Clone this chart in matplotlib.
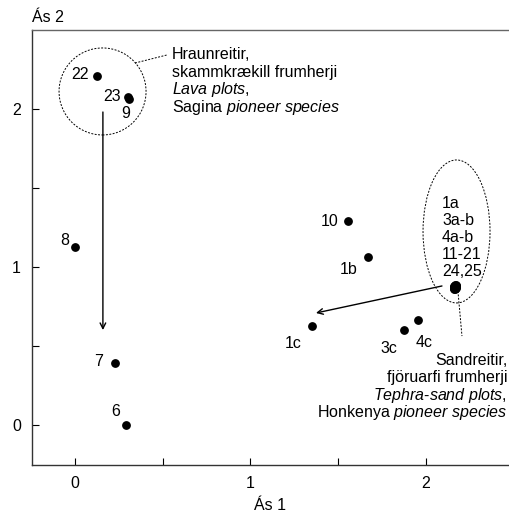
import matplotlib
matplotlib.use("Agg")
import matplotlib.pyplot as plt
from matplotlib.patches import Ellipse

plt.rcParams['font.family'] = ['Liberation Sans', 'DejaVu Sans']
plt.rcParams['mathtext.fontset'] = 'custom'
plt.rcParams['mathtext.rm'] = 'Liberation Sans'
plt.rcParams['mathtext.it'] = 'Liberation Sans:italic'

# ordination scores (axis 1, axis 2)
labels = ['22', '23', '9', '8', '7', '6', '10', '1b', '1c', '3c', '4c']
ax1 = [0.125, 0.302, 0.308, 0.0, 0.228, 0.291, 1.556, 1.670, 1.350, 1.875, 1.954]
ax2 = [2.209, 2.076, 2.063, 1.127, 0.392, 0.0, 1.291, 1.063, 0.627, 0.601, 0.665]
# label offsets in pixels
lab_dx = [-17, -16, -3, -10, -16, -10, -18, -19, -19, -15, 6]
lab_dy = [1, 0, -14, 6, 2, 14, 0, -12, -18, -18, -23]

# tight cluster of tephra-sand plots
clus_x = [2.158, 2.162, 2.165, 2.168, 2.171, 2.160, 2.166, 2.173, 2.163, 2.169,
          2.157, 2.164, 2.170, 2.161, 2.167, 2.172, 2.159, 2.166]
clus_y = [0.862, 0.868, 0.874, 0.879, 0.884, 0.871, 0.866, 0.877, 0.881, 0.869,
          0.875, 0.886, 0.872, 0.878, 0.864, 0.882, 0.870, 0.876]
clus_labels = ['1a', '3a-b', '4a-b', '11-21', '24,25']

lava_text = ['Hraunreitir,', 'skammkrækill frumherji', r'$\mathit{Lava\ plots,}$',
             r'Sagina $\mathit{pioneer\ species}$']
sand_text = ['Sandreitir,', 'fjöruarfi frumherji', r'$\mathit{Tephra}$-$\mathit{sand\ plots,}$',
             r'Honkenya $\mathit{pioneer\ species}$']

W, H = 509, 513
fig = plt.figure(figsize=(W / 100, H / 100), dpi=100)
ax = fig.add_axes([32 / W, (H - 465) / H, 1 - 32 / W, (465 - 30) / H])
ax.set_xlim(-0.245, 2.473)
ax.set_ylim(-0.253, 2.5)

fs = 11.5
ax.plot(ax1, ax2, 'o', color='black', ms=5.3)
ax.plot(clus_x, clus_y, 'o', color='black', ms=5.3)
for t, x, y, dx, dy in zip(labels, ax1, ax2, lab_dx, lab_dy):
    ax.annotate(t, (x, y), xytext=(dx, dy), textcoords='offset pixels',
                ha='center', va='center', fontsize=fs)

for i, t in enumerate(clus_labels):
    ax.annotate(t, (2.091, 1.405), xytext=(0, -17 * i), textcoords='offset pixels',
                ha='left', va='center', fontsize=fs)

for i, t in enumerate(lava_text):
    ax.annotate(t, (0.553, 2.342), xytext=(0, -17.5 * i), textcoords='offset pixels',
                ha='left', va='center', fontsize=fs)
for i, t in enumerate(sand_text):
    ax.annotate(t, (2.462, 0.411), xytext=(0, -17.5 * i), textcoords='offset pixels',
                ha='right', va='center', fontsize=fs)

# dashed group outlines and leaders
ax.add_patch(Ellipse((0.157, 2.111), 87 / 175.5, 87 / 158, fill=False,
                     ls=(0, (2, 1.5)), lw=0.7, color='black'))
ax.add_patch(Ellipse((2.174, 1.225), 67 / 175.5, 143 / 158, fill=False,
                     ls=(0, (2, 1.5)), lw=0.7, color='black'))
ax.plot([0.342, 0.524], [2.291, 2.342], ls=(0, (2, 1.5)), lw=0.7, color='black')
ax.plot([2.182, 2.205], [0.848, 0.563], ls=(0, (2, 1.5)), lw=0.7, color='black')

# arrows
ax.annotate('', xy=(0.159, 0.601), xytext=(0.159, 1.981),
            arrowprops=dict(arrowstyle='->', lw=1, color='black', shrinkA=0, shrinkB=0))
ax.annotate('', xy=(1.373, 0.709), xytext=(2.091, 0.880),
            arrowprops=dict(arrowstyle='->', lw=1, color='black', shrinkA=0, shrinkB=0))

ax.set_xticks([0, 1, 2])
ax.set_xticks([0.5, 1.5], minor=True)
ax.set_yticks([0, 1, 2])
ax.set_yticks([0.5, 1.5], minor=True)
ax.tick_params(which='both', direction='in', length=5, width=0.8, labelsize=fs, pad=8)
ax.spines['right'].set_visible(False)
for s in ['left', 'bottom']:
    ax.spines[s].set_color('#333333')
ax.spines['top'].set_color('#666666')
for s in ax.spines.values():
    s.set_linewidth(1)

fig.text(32 / W, 1 - 18 / H, 'Ás 2', ha='left', va='center', fontsize=fs)
fig.text(270 / W, 1 - 505 / H, 'Ás 1', ha='center', va='center', fontsize=fs)

fig.savefig('out.png', dpi=100)
